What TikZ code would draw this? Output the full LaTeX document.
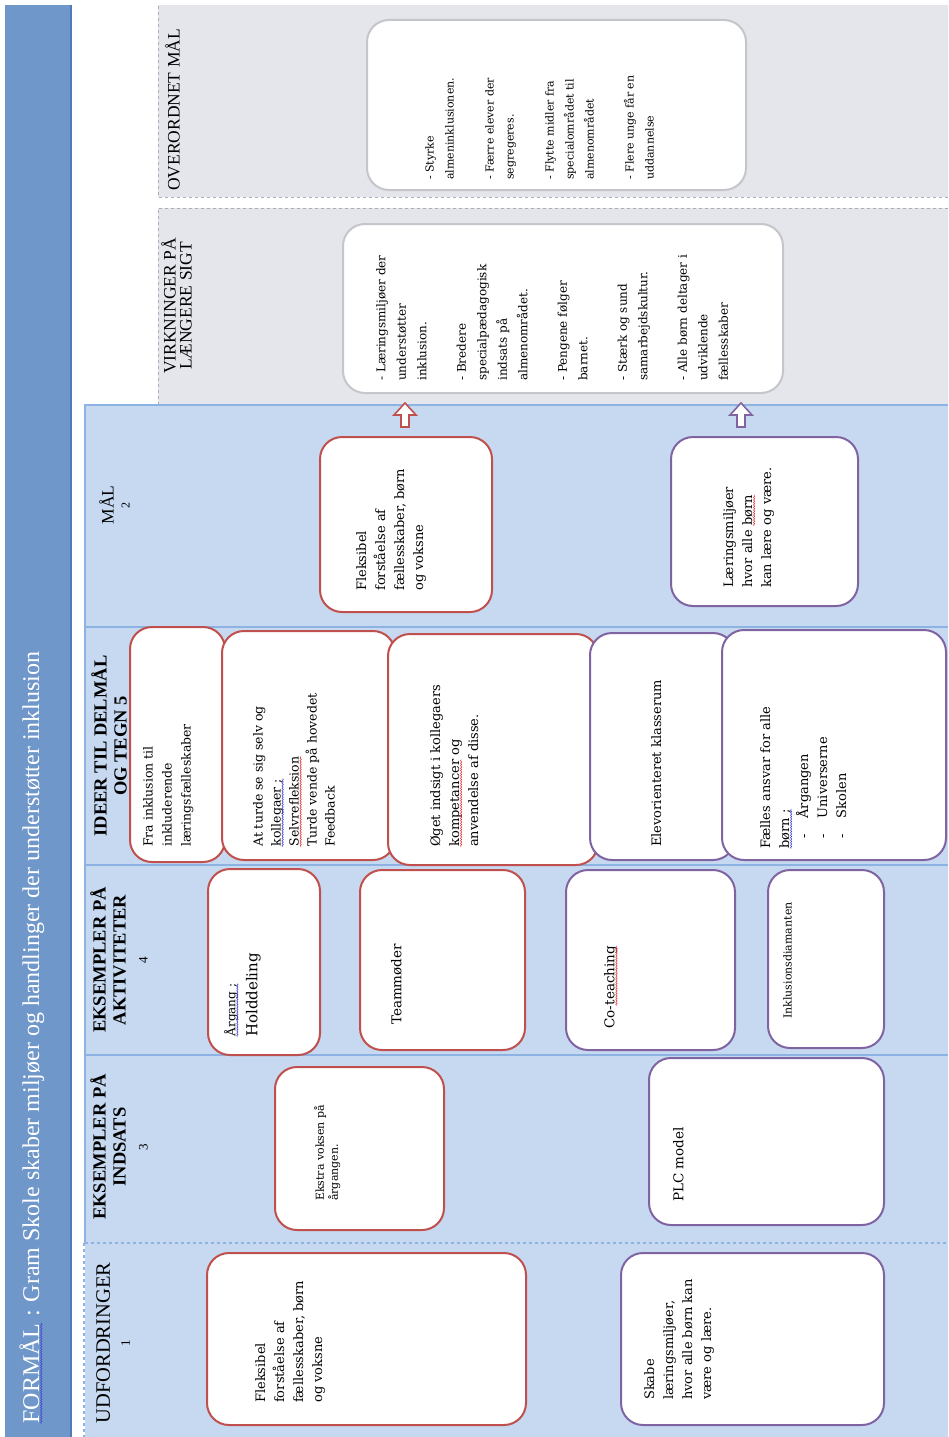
\documentclass[tikz,border=0pt]{standalone}
\usepackage{fontspec}
\setmainfont{DejaVu Serif}
\newfontfamily\headfont{Liberation Serif}
\usetikzlibrary{decorations.pathmorphing}

\definecolor{titleblue}{HTML}{6F97CA}
\definecolor{titleedge}{HTML}{4F7BB7}
\definecolor{bandblue}{HTML}{C6D9F1}
\definecolor{bandline}{HTML}{8DB3E2}
\definecolor{greyfill}{HTML}{E4E6EC}
\definecolor{greyline}{HTML}{A9ADB7}
\definecolor{cardred}{HTML}{C0504D}
\definecolor{cardpurple}{HTML}{8064A2}
\definecolor{cardgrey}{HTML}{C4C6CC}
\definecolor{sqblue}{HTML}{3C3CD0}
\definecolor{sqred}{HTML}{E03030}

% spell check squiggle
\newcommand{\squig}[2]{\tikz[baseline=(sq.base),x=1cm,y=1cm]{\node[inner sep=0pt] (sq) {#2};
    \draw[#1,line width=0.5pt,decorate,decoration={snake,amplitude=0.7pt,segment length=2.5pt}]
    ([yshift=-2pt]sq.base west) -- ([yshift=-2pt]sq.base east);}}

\begin{document}
\begin{tikzpicture}[x=1pt,y=-1pt,
  every node/.style={inner sep=0pt},
  header/.style={rotate=90,anchor=north,align=center,font=\headfont\fontsize{17.5}{16}\selectfont},
  boldheader/.style={header,font=\headfont\bfseries\fontsize{18.5}{20}\selectfont},
  card/.style={draw=#1,fill=white,line width=2pt,rounded corners=22pt},
  cardtext/.style={rotate=90,anchor=north west,align=left,font=\fontsize{13}{19}\selectfont},
  smalltext/.style={cardtext,font=\fontsize{11}{20}\selectfont},
  liftarrow/.style={draw=#1,fill=white,line width=1.6pt}
]
\useasboundingbox[fill=white] (0,0) rectangle (948,1437);

% Macro for a card: name, colour, x1, y1, x2, y2
\newcommand{\cardbox}[6]{
    \node[card=#2, minimum width={(#5)-(#3)}, minimum height={(#6)-(#4)}]
        (#1) at ({((#3)+(#5))/2},{((#4)+(#6))/2}) {};
}
% Macro for a hollow up arrow
\newcommand{\liftarrow}[2]{
    \draw[liftarrow=#2] (#1-4,427) -- (#1-4,415) -- (#1-11,415) -- (#1,403)
        -- (#1+11,415) -- (#1+4,415) -- (#1+4,427) -- cycle;
}

% Title band
\fill[titleblue] (5,5) rectangle (72,1437);
\draw[titleedge,line width=1.5pt] (71,5) -- (71,1437);
\node[rotate=90,anchor=west,text=white,font=\headfont\fontsize{24}{24}\selectfont]
    (title) at (32,1424) {\squig{sqblue}{FORMÅL} : Gram Skole skaber miljøer og handlinger der understøtter inklusion};

% Grey regions
\fill[greyfill] (158,5) rectangle (948,197);
\draw[greyline,dashed,line width=1pt] (948,197) -- (158,197) -- (158,5);
\fill[greyfill] (158,208) rectangle (948,405);
\draw[greyline,dashed,line width=1pt] (948,208) -- (158,208) -- (158,405);

% Blue bands
\fill[bandblue] (85,405) rectangle (948,1437);
\draw[bandline,line width=1.8pt] (948,405) -- (85,405) -- (85,1243);
\draw[bandline,line width=1.8pt] (85,627) -- (948,627);
\draw[bandline,line width=1.8pt] (85,865) -- (948,865);
\draw[bandline,line width=1.8pt] (85,1055) -- (948,1055);
\draw[bandline,dashed,line width=1.5pt] (85,1243) -- (948,1243);
\draw[bandline,dashed,line width=1.5pt] (84,1243) -- (84,1437);

% Headers
\node[header] (hov) at (165,110) {OVERORDNET MÅL};
\node[header] (hvi) at (161,306) {VIRKNINGER PÅ\\LÆNGERE SIGT};
\node[header] (hmaal) at (99,505) {MÅL\\{\fontsize{12}{12}\selectfont 2}};
\node[boldheader] (hideer) at (91,746) {IDEER TIL DELMÅL\\OG TEGN 5};
\node[boldheader] (hakt) at (90,960) {EKSEMPLER PÅ\\AKTIVITETER\\[2pt]{\mdseries\fontsize{13}{13}\selectfont 4}};
\node[boldheader] (hind) at (90,1147) {EKSEMPLER PÅ\\INDSATS\\[2pt]{\mdseries\fontsize{13}{13}\selectfont 3}};
\node[header,font=\headfont\fontsize{20.5}{20}\selectfont] (hudf) at (96,1343) {UDFORDRINGER\\{\fontsize{13}{13}\selectfont 1}};

% Overordnet mål / virkninger
\cardbox{ov}{cardgrey}{367}{20}{746}{190}
\node[smalltext] (ovt) at (425,180) {- Styrke\\almeninklusionen.\\[20pt]- Færre elever der\\segregeres.\\[20pt]- Flytte midler fra\\specialområdet til\\almenområdet\\[20pt]- Flere unge får en\\uddannelse};
\cardbox{vi}{cardgrey}{343}{224}{783}{393}
\node[smalltext,font=\fontsize{12}{20.5}\selectfont] (vit) at (376,381) {- Læringsmiljøer der\\understøtter\\inklusion.\\[19pt]- Bredere\\specialpædagogisk\\indsats på\\almenområdet.\\[19pt]- Pengene følger\\barnet.\\[19pt]- Stærk og sund\\samarbejdskultur.\\[19pt]- Alle børn deltager i\\udviklende\\fællesskaber};

% Mål
\liftarrow{405}{cardred}
\liftarrow{741}{cardpurple}
\cardbox{m1}{cardred}{320}{437}{492}{612}
\node[cardtext] (m1t) at (356,591) {Fleksibel\\forståelse af\\fællesskaber, børn\\og voksne};
\cardbox{m2}{cardpurple}{671}{437}{858}{606}
\node[cardtext] (m2t) at (723,588) {Læringsmiljøer\\hvor alle \squig{sqred}{børn}\\kan lære og være.};

% Ideer til delmål og tegn
\cardbox{i1}{cardred}{130}{627}{225}{862}
\node[cardtext,font=\fontsize{12.5}{19}\selectfont] (i1t) at (143,847) {Fra inklusion til\\inkluderende\\læringsfælleskaber};
\cardbox{i2}{cardred}{222}{631}{395}{860}
\node[cardtext,font=\fontsize{12.5}{18}\selectfont] (i2t) at (253,847) {At turde se sig selv og\\\squig{sqblue}{kollegaer ;}\\\squig{sqred}{Selvrefleksion}\\Turde vende på hovedet\\Feedback};
\cardbox{i3}{cardred}{388}{634}{598}{865}
\node[cardtext] (i3t) at (430,847) {Øget indsigt i kollegaers\\\squig{sqred}{kompetancer} og\\anvendelse af disse.};
\cardbox{i4}{cardpurple}{590}{633}{735}{860}
\node[cardtext] (i4t) at (651,847) {Elevorienteret klasserum};
\cardbox{i5}{cardpurple}{722}{630}{946}{860}
\node[cardtext] (i5t) at (760,849) {Fælles ansvar for alle\\\squig{sqblue}{børn ;}\\\hspace*{10pt}-\hspace{16pt}Årgangen\\\hspace*{10pt}-\hspace{16pt}Universerne\\\hspace*{10pt}-\hspace{16pt}Skolen};

% Eksempler på aktiviteter
\cardbox{a1}{cardred}{208}{869}{320}{1055}
\node[cardtext,font=\fontsize{15}{22}\selectfont] (a1t) at (224,1037) {{\fontsize{12}{12}\selectfont\squig{sqblue}{Årgang ;}}\\Holddeling};
\cardbox{a2}{cardred}{360}{870}{525}{1050}
\node[cardtext,font=\fontsize{13.5}{19}\selectfont] (a2t) at (391,1025) {Teammøder};
\cardbox{a3}{cardpurple}{566}{870}{735}{1050}
\node[cardtext,font=\fontsize{13.5}{19}\selectfont] (a3t) at (604,1029) {Co-\squig{sqred}{teaching}};
\cardbox{a4}{cardpurple}{768}{870}{884}{1048}
\node[cardtext,font=\fontsize{11}{14}\selectfont] (a4t) at (783,1019) {Inklusionsdiamanten};

% Eksempler på indsats
\cardbox{s1}{cardred}{275}{1067}{444}{1230}
\node[cardtext,font=\fontsize{11}{14}\selectfont] (s1t) at (314,1201) {Ekstra voksen på\\årgangen.};
\cardbox{s2}{cardpurple}{649}{1058}{884}{1225}
\node[cardtext,font=\fontsize{13.5}{19}\selectfont] (s2t) at (673,1202) {PLC model};

% Udfordringer
\cardbox{u1}{cardred}{207}{1253}{526}{1425}
\node[cardtext] (u1t) at (255,1403) {Fleksibel\\forståelse af\\fællesskaber, børn\\og voksne};
\cardbox{u2}{cardpurple}{621}{1253}{884}{1425}
\node[cardtext] (u2t) at (644,1400) {Skabe\\læringsmiljøer,\\hvor alle børn kan\\være og lære.};

\end{tikzpicture}
\end{document}
